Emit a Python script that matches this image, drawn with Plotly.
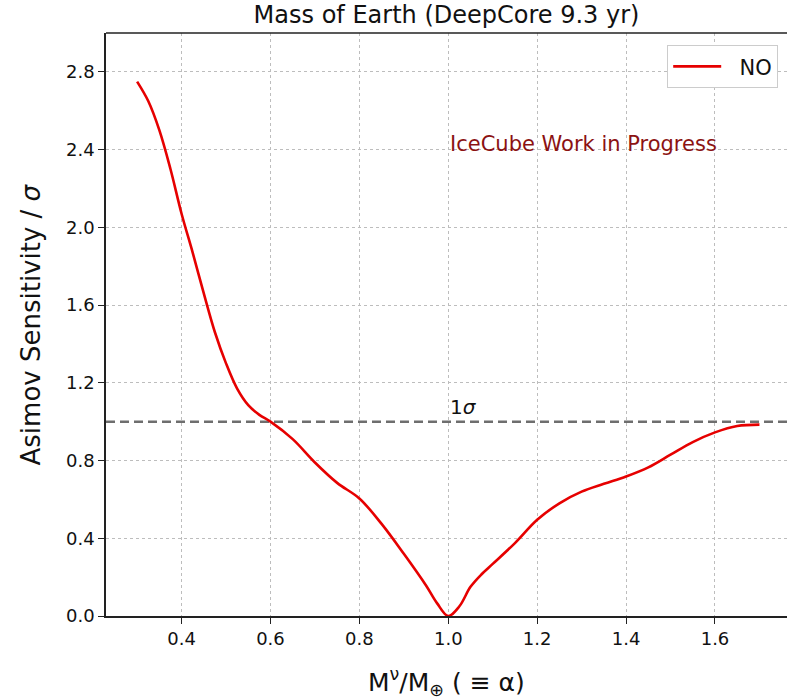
import plotly.graph_objects as go

# Earth-mass scaling factor alpha and the Asimov sensitivity (normal ordering)
alpha = [0.30, 0.325, 0.35, 0.375, 0.40, 0.425, 0.45, 0.475, 0.50, 0.525,
         0.55, 0.575, 0.60, 0.65, 0.70, 0.75, 0.80, 0.85, 0.90, 0.95, 0.975,
         1.00, 1.025, 1.05, 1.075, 1.10, 1.15, 1.20, 1.25, 1.30, 1.35, 1.40,
         1.45, 1.50, 1.55, 1.60, 1.65, 1.70]
sens_no = [2.75, 2.65, 2.50, 2.30, 2.07, 1.87, 1.66, 1.46, 1.30, 1.17,
           1.085, 1.035, 1.00, 0.91, 0.79, 0.685, 0.605, 0.474, 0.32, 0.157, 0.065,
           0.0, 0.05, 0.15, 0.215, 0.268, 0.375, 0.495, 0.58, 0.64, 0.68, 0.718,
           0.765, 0.83, 0.895, 0.945, 0.978, 0.985]

one_sigma = 1.0
x_ticks = [0.4, 0.6, 0.8, 1.0, 1.2, 1.4, 1.6]
y_ticks = [0.0, 0.4, 0.8, 1.2, 1.6, 2.0, 2.4, 2.8]

FONT = "DejaVu Sans"

fig = go.Figure()
fig.add_trace(go.Scatter(
    x=alpha, y=sens_no, mode="lines", name="\u00a0\u00a0NO",
    line=dict(color="#e60000", width=2.6, shape="spline", smoothing=1.0),
))

# 1 sigma reference line
fig.add_shape(type="line", xref="paper", x0=0, x1=1, yref="y",
              y0=one_sigma, y1=one_sigma,
              line=dict(color="#6e6e6e", width=2.5, dash="9px,5px"), layer="below")
# top frame line
fig.add_shape(type="line", xref="paper", x0=0, x1=1, yref="paper", y0=1, y1=1,
              line=dict(color="#222", width=1.5))

fig.add_annotation(x=1.0, y=one_sigma, xref="x", yref="y", text="1<i>σ</i>",
                   showarrow=False, xanchor="left", yanchor="bottom", yshift=1,
                   font=dict(family=FONT, size=20, color="#111"))
fig.add_annotation(x=1.0, y=2.43, xref="x", yref="y", text="IceCube Work in Progress",
                   showarrow=False, xanchor="left", yanchor="middle",
                   font=dict(family=FONT, size=21, color="#8b1212"))

# axis titles
fig.add_annotation(x=-76 / 681, y=0.5, xref="paper", yref="paper",
                   text="Asimov Sensitivity / <i>σ</i>", textangle=-90,
                   showarrow=False, xanchor="center", yanchor="middle",
                   font=dict(family=FONT, size=26, color="#111"))
fig.add_annotation(x=0.5, y=-66 / 583, xref="paper", yref="paper",
                   text="M<sup>ν</sup>/M<sub>⊕</sub> ( ≡ α)",
                   showarrow=False, xanchor="center", yanchor="middle",
                   font=dict(family=FONT, size=25, color="#111"))

axis_common = dict(
    showline=True, linecolor="#222", linewidth=1.5,
    ticks="outside", ticklen=6, tickwidth=1.3, tickcolor="#222",
    showgrid=True, gridcolor="#bdbdbd", gridwidth=1, griddash="dot",
    zeroline=False, tickfont=dict(family=FONT, size=18, color="#111"),
)

fig.update_xaxes(range=[0.23, 1.762], tickvals=x_ticks, tickformat=".1f", **axis_common)
fig.update_yaxes(range=[0.0, 3.0], tickvals=y_ticks, tickformat=".1f", **axis_common)

fig.update_layout(
    width=787, height=699,
    margin=dict(l=106, r=0, t=33, b=83),
    paper_bgcolor="white", plot_bgcolor="white",
    title=dict(text="Mass of Earth (DeepCore 9.3 yr)", x=446.5 / 787, xanchor="center",
               y=1 - 15 / 699, yanchor="middle",
               font=dict(family=FONT, size=24, color="#111")),
    showlegend=True,
    legend=dict(x=1 - 9 / 681, y=1 - 12 / 583, xanchor="right", yanchor="top",
                bgcolor="white", bordercolor="#cccccc", borderwidth=1.2,
                itemwidth=48,
                font=dict(family=FONT, size=21, color="#111")),
)

fig.write_html("out.html")
